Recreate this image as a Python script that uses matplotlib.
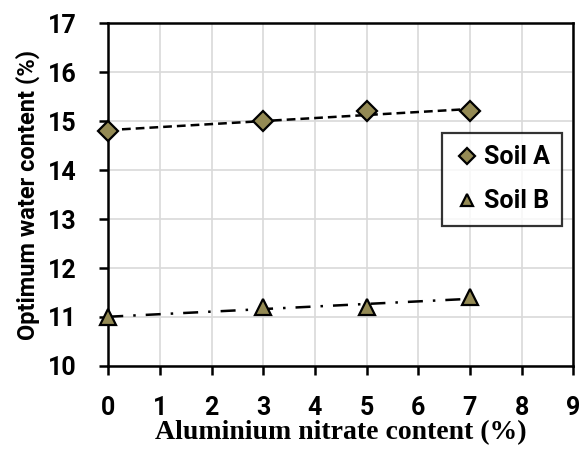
import numpy as np
import matplotlib
matplotlib.use('Agg')
import matplotlib.pyplot as plt

# data
nitrate = [0, 3, 5, 7]
soil_a = [14.8, 15.0, 15.2, 15.2]
soil_b = [11.0, 11.2, 11.2, 11.4]
x_ticks = list(range(0, 10))
y_ticks = list(range(10, 18))

marker_col = '#948A54'
sans = ['Roboto', 'DejaVu Sans']
serif = ['Liberation Serif', 'DejaVu Serif']

fig = plt.figure(figsize=(5.82, 4.5), dpi=100)
ax = fig.add_axes([0.186, 0.187, 0.799, 0.761])

# linear trendlines, as excel draws them
xs = np.array([0, 7])
pa = np.polyfit(nitrate, soil_a, 1)
pb = np.polyfit(nitrate, soil_b, 1)
ax.plot(xs, np.polyval(pa, xs), color='black', lw=1.8, ls=(0, (3.5, 2)), zorder=3)
ax.plot(xs, np.polyval(pb, xs), color='black', lw=1.8, ls=(0, (6, 4, 1, 4)), zorder=3)

ax.plot(nitrate, soil_a, ls='none', marker='D', ms=10, mfc=marker_col, mec='black',
        mew=1.6, label='Soil A', zorder=4, clip_on=False)
ax.plot(nitrate, soil_b, ls='none', marker='^', ms=12, mfc=marker_col, mec='black',
        mew=1.6, label='Soil B', zorder=4, clip_on=False)

ax.set_xlim(0, 9)
ax.set_ylim(10, 17)
ax.set_xticks(x_ticks)
ax.set_yticks(y_ticks)
ax.grid(True, color='#d9d9d9', lw=1.2)
ax.set_axisbelow(True)
for s in ax.spines.values():
    s.set_linewidth(1.8)
ax.tick_params(direction='out', length=6.5, width=1.8)
ax.tick_params(axis='x', pad=15)
ax.tick_params(axis='y', pad=16)
for lab in ax.get_xticklabels() + ax.get_yticklabels():
    lab.set_family(sans)
    lab.set_fontweight('bold')
    lab.set_fontsize(18)

ax.set_xlabel('Aluminium nitrate content (%)', family=serif, fontweight='bold',
              fontsize=20, labelpad=0)
ax.set_ylabel('Optimum water content (%)', family=sans, fontweight='bold',
              fontsize=17, labelpad=6)

leg = ax.legend(loc='upper right', bbox_to_anchor=(0.976, 0.68), frameon=True,
                fancybox=False, edgecolor='black', handletextpad=0.15,
                handlelength=1.0, borderpad=0.5, labelspacing=0.8,
                borderaxespad=0,
                prop={'family': sans, 'weight': 'bold', 'size': 18})
leg.get_frame().set_linewidth(1.6)
leg.legend_handles[0].set_markersize(8)
leg.legend_handles[1].set_markersize(9)

fig.savefig('out.png', dpi=100)
